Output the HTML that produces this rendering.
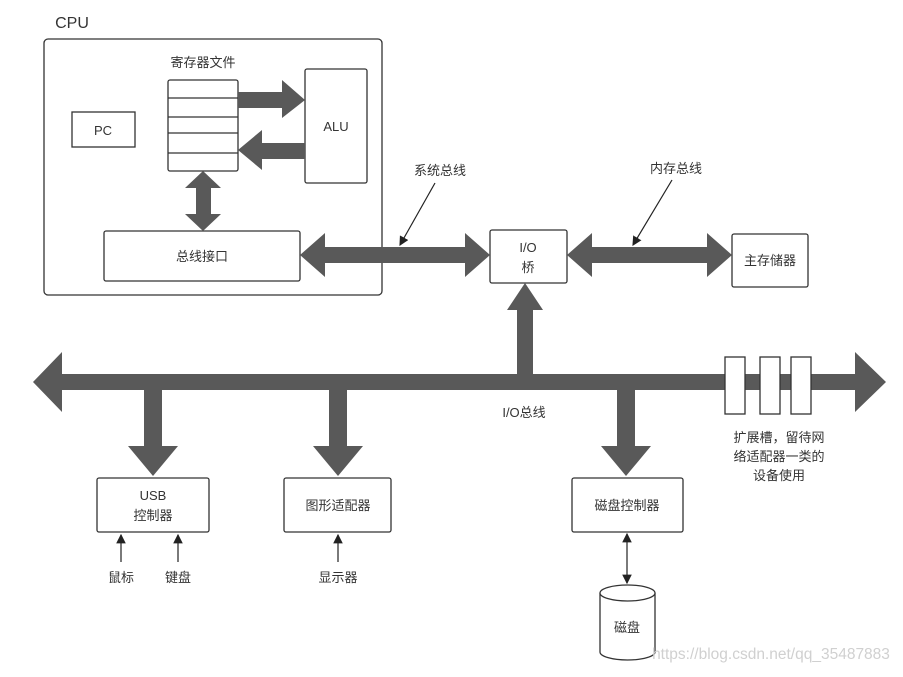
<!DOCTYPE html>
<html><head><meta charset="utf-8"><style>
body{margin:0;background:#fff;}
svg text{font-family:"Liberation Sans","Noto Sans CJK SC",sans-serif;fill:#333;}
</style></head><body>
<svg width="903" height="672" viewBox="0 0 903 672" xmlns="http://www.w3.org/2000/svg">
<defs><marker id="ah" markerWidth="8" markerHeight="8" refX="7" refY="4" orient="auto"><path d="M0,0 L8,4 L0,8z" fill="#222"/></marker>
<marker id="ahs" markerWidth="8" markerHeight="8" refX="1" refY="4" orient="auto"><path d="M8,0 L0,4 L8,8z" fill="#222"/></marker></defs>
<g fill="#fff" stroke="#333" stroke-width="1.3">
<rect x="44" y="39" width="338" height="256" rx="4"/>
<rect x="72" y="112" width="63" height="35"/>
<rect x="168" y="80" width="70" height="91" rx="2"/>
<rect x="305" y="69" width="62" height="114" rx="2"/>
<rect x="104" y="231" width="196" height="50" rx="2"/>
<rect x="490" y="230" width="77" height="53" rx="2"/>
<rect x="732" y="234" width="76" height="53" rx="2"/>
<rect x="97" y="478" width="112" height="54" rx="2"/>
<rect x="284" y="478" width="107" height="54" rx="2"/>
<rect x="572" y="478" width="111" height="54" rx="2"/>
</g>
<g stroke="#333" stroke-width="1.3"><line x1="168" y1="98" x2="238" y2="98"/><line x1="168" y1="117" x2="238" y2="117"/><line x1="168" y1="133" x2="238" y2="133"/><line x1="168" y1="153" x2="238" y2="153"/></g>
<g fill="#595959">
<polygon points="238,92 282,92 282,80 305,100 282,118 282,108 238,108"/>
<polygon points="305,143 262,143 262,130 238,150 262,170 262,159 305,159"/>
<polygon points="203,171 221,188 211,188 211,214 221,214 203,231 185,214 196,214 196,188 185,188"/>
<polygon points="300,255 325,233 325,247 465,247 465,233 490,255 465,277 465,263 325,263 325,277"/>
<polygon points="567,255 592,233 592,247 707,247 707,233 732,255 707,277 707,263 592,263 592,277"/>
<polygon points="525,283 543,310 533,310 533,376 517,376 517,310 507,310"/>
<polygon points="33,382 62,352 62,374 855,374 855,352 886,382 855,412 855,390 62,390 62,412"/>
<polygon points="144,390 162,390 162,446 178,446 153,476 128,446 144,446"/>
<polygon points="329,390 347,390 347,446 363,446 338,476 313,446 329,446"/>
<polygon points="617,390 635,390 635,446 651,446 626,476 601,446 617,446"/>
</g>
<g fill="#fff" stroke="#333" stroke-width="1.3"><rect x="725" y="357" width="20" height="57"/><rect x="760" y="357" width="20" height="57"/><rect x="791" y="357" width="20" height="57"/></g>
<g stroke="#222" stroke-width="1.2" fill="none">
<line x1="435" y1="183" x2="400" y2="245" marker-end="url(#ah)"/>
<line x1="672" y1="180" x2="633" y2="245" marker-end="url(#ah)"/>
<line x1="121" y1="562" x2="121" y2="535" marker-end="url(#ah)"/>
<line x1="178" y1="562" x2="178" y2="535" marker-end="url(#ah)"/>
<line x1="338" y1="562" x2="338" y2="535" marker-end="url(#ah)"/>
<line x1="627" y1="534" x2="627" y2="583" marker-start="url(#ahs)" marker-end="url(#ah)"/>
</g>
<path d="M600,593 L600,652 A27.5,8 0 0 0 655,652 L655,593" fill="#fff" stroke="#333" stroke-width="1.3"/>
<ellipse cx="627.5" cy="593" rx="27.5" ry="8" fill="#fff" stroke="#333" stroke-width="1.3"/>
<g font-size="13" text-anchor="middle">
<text x="72" y="28" font-size="16">CPU</text>
<text x="203" y="67">寄存器文件</text>
<text x="103" y="135">PC</text>
<text x="336" y="131">ALU</text>
<text x="202" y="261">总线接口</text>
<text x="440" y="175">系统总线</text>
<text x="676" y="173">内存总线</text>
<text x="528" y="252">I/O</text>
<text x="528" y="272">桥</text>
<text x="770" y="265">主存储器</text>
<text x="524" y="417">I/O总线</text>
<text x="779" y="442">扩展槽，留待网</text>
<text x="779" y="461">络适配器一类的</text>
<text x="779" y="480">设备使用</text>
<text x="153" y="500">USB</text>
<text x="153" y="520">控制器</text>
<text x="338" y="510">图形适配器</text>
<text x="627" y="510">磁盘控制器</text>
<text x="121" y="582">鼠标</text>
<text x="178" y="582">键盘</text>
<text x="338" y="582">显示器</text>
<text x="627" y="632">磁盘</text>
<text x="771" y="659" style="fill:#d0d0d0" font-size="15.5">https://blog.csdn.net/qq_35487883</text>
</g>
</svg>
</body></html>
